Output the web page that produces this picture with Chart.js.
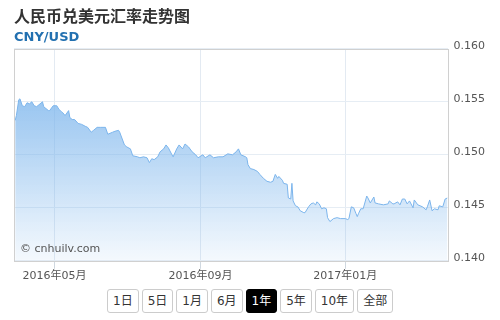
<!DOCTYPE html>
<html>
<head>
<meta charset="utf-8">
<script src="https://cdn.jsdelivr.net/npm/chart.js@4"></script>
<style>
  body { margin: 0; background: #fff; font-family: 'DejaVu Sans', 'Noto Sans CJK SC', sans-serif; }
  #wrap { position: relative; width: 500px; height: 320px; }
  #box { position: absolute; left: 0; top: 0; width: 500px; height: 284px; }
  #ranges { position: absolute; left: 107px; top: 289px; white-space: nowrap; font-size: 0; }
  #ranges span {
    display: inline-block; height: 22px; line-height: 22px; padding: 0 5px; margin-right: 3px;
    border: 1px solid #ccc; border-radius: 3px; font-size: 12px; color: #333;
    font-family: 'DejaVu Sans', 'Noto Sans CJK SC', sans-serif;
  }
  #ranges span.on { background: #000; color: #fff; border-color: #000; }
</style>
</head>
<body>
<div id="wrap">
  <div id="box"><canvas id="rate"></canvas></div>
  <div id="ranges"></div>
</div>
<script>
const dates = [
  '2016-03-29','2016-03-30','2016-04-01','2016-04-02','2016-04-04','2016-04-06','2016-04-08','2016-04-10',
  '2016-04-12','2016-04-14','2016-04-16','2016-04-18','2016-04-21','2016-04-22','2016-04-26','2016-04-27',
  '2016-04-30','2016-05-03','2016-05-05','2016-05-07','2016-05-08','2016-05-10','2016-05-13','2016-05-14',
  '2016-05-16','2016-05-18','2016-05-21','2016-05-24','2016-05-27','2016-05-29','2016-06-01','2016-06-03',
  '2016-06-06','2016-06-09','2016-06-13','2016-06-15','2016-06-19','2016-06-21','2016-06-24','2016-06-25',
  '2016-06-29','2016-07-01','2016-07-04','2016-07-06','2016-07-10','2016-07-12','2016-07-15','2016-07-18',
  '2016-07-20','2016-07-22','2016-07-24','2016-07-27','2016-07-29','2016-08-01','2016-08-03','2016-08-05',
  '2016-08-08','2016-08-09','2016-08-12','2016-08-14','2016-08-17','2016-08-19','2016-08-22','2016-08-25',
  '2016-08-28','2016-08-30','2016-09-03','2016-09-05','2016-09-09','2016-09-12','2016-09-16','2016-09-20',
  '2016-09-24','2016-09-28','2016-10-01','2016-10-03','2016-10-05','2016-10-09','2016-10-10','2016-10-11',
  '2016-10-13','2016-10-16','2016-10-19','2016-10-21','2016-10-24','2016-10-27','2016-10-30','2016-11-01',
  '2016-11-03','2016-11-05','2016-11-06','2016-11-09','2016-11-10','2016-11-13','2016-11-14','2016-11-16',
  '2016-11-17','2016-11-18','2016-11-20','2016-11-22','2016-11-24','2016-11-27','2016-11-28','2016-12-01',
  '2016-12-03','2016-12-05','2016-12-07','2016-12-08','2016-12-10','2016-12-12','2016-12-14','2016-12-16',
  '2016-12-17','2016-12-19','2016-12-22','2016-12-25','2016-12-28','2017-01-01','2017-01-03','2017-01-04',
  '2017-01-06','2017-01-08','2017-01-10','2017-01-11','2017-01-12','2017-01-14','2017-01-16','2017-01-19',
  '2017-01-20','2017-01-22','2017-01-25','2017-01-26','2017-01-29','2017-02-02','2017-02-06','2017-02-07',
  '2017-02-10','2017-02-11','2017-02-14','2017-02-16','2017-02-18','2017-02-20','2017-02-22','2017-02-24',
  '2017-02-27','2017-02-28','2017-03-03','2017-03-07','2017-03-10','2017-03-11','2017-03-13','2017-03-15',
  '2017-03-17','2017-03-20','2017-03-21','2017-03-24','2017-03-26','2017-03-28'
];
const rates = [
  0.15324, 0.15370, 0.15519, 0.15528, 0.15463, 0.15454, 0.15491, 0.15481,
  0.15500, 0.15463, 0.15454, 0.15472, 0.15500, 0.15454, 0.15417, 0.15417,
  0.15463, 0.15463, 0.15426, 0.15407, 0.15398, 0.15370, 0.15417, 0.15352,
  0.15333, 0.15333, 0.15296, 0.15287, 0.15269, 0.15259, 0.15213, 0.15231,
  0.15259, 0.15259, 0.15259, 0.15194, 0.15213, 0.15222, 0.15231, 0.15213,
  0.15093, 0.15074, 0.15056, 0.14991, 0.14981, 0.14972, 0.14981, 0.14972,
  0.14926, 0.14963, 0.14954, 0.14981, 0.15028, 0.15056, 0.15093, 0.15065,
  0.15000, 0.14981, 0.15056, 0.15093, 0.15056, 0.15102, 0.15074, 0.15028,
  0.15000, 0.14972, 0.15000, 0.14972, 0.15000, 0.14972, 0.14981, 0.14981,
  0.15009, 0.15000, 0.15028, 0.15056, 0.15000, 0.14981, 0.14972, 0.14907,
  0.14870, 0.14861, 0.14843, 0.14815, 0.14778, 0.14750, 0.14741, 0.14750,
  0.14815, 0.14778, 0.14796, 0.14759, 0.14731, 0.14722, 0.14593, 0.14583,
  0.14731, 0.14565, 0.14519, 0.14509, 0.14472, 0.14454, 0.14454, 0.14509,
  0.14537, 0.14546, 0.14528, 0.14556, 0.14537, 0.14491, 0.14500, 0.14491,
  0.14407, 0.14370, 0.14398, 0.14407, 0.14398, 0.14398, 0.14389, 0.14398,
  0.14509, 0.14500, 0.14444, 0.14417, 0.14444, 0.14491, 0.14491, 0.14611,
  0.14593, 0.14546, 0.14602, 0.14546, 0.14537, 0.14528, 0.14537, 0.14565,
  0.14537, 0.14537, 0.14556, 0.14528, 0.14583, 0.14583, 0.14537, 0.14565,
  0.14500, 0.14574, 0.14528, 0.14509, 0.14481, 0.14509, 0.14574, 0.14472,
  0.14491, 0.14481, 0.14519, 0.14509, 0.14583, 0.14593
];
const tickDates = ['2016-05-01', '2016-09-01', '2017-01-01'];
const tickLabels = ['2016年05月', '2016年09月', '2017年01月'];
const rangeLabels = ['1日', '5日', '1月', '6月', '1年', '5年', '10年', '全部'];
const activeRange = '1年';

const firstDay = '2016-03-28';
const lastDay = '2017-03-28';

function dayIndex(s) {
  const p = s.split('-');
  const t = Date.UTC(+p[0], p[1] - 1, +p[2]);
  const p0 = firstDay.split('-');
  return Math.round((t - Date.UTC(+p0[0], p0[1] - 1, +p0[2])) / 86400000);
}

// frame + watermark
const frame = {
  id: 'frame',
  afterDatasetsDraw(chart) {
    const a = chart.chartArea;
    const ctx = chart.ctx;
    ctx.save();
    ctx.strokeStyle = '#d0d0d0';
    ctx.lineWidth = 1;
    ctx.strokeRect(Math.round(a.left) + 0.5, Math.round(a.top) + 0.5,
      Math.round(a.right - a.left), Math.round(a.bottom - a.top));
    ctx.fillStyle = '#555';
    ctx.font = '11px "DejaVu Sans", sans-serif';
    ctx.textBaseline = 'middle';
    ctx.fillText('© cnhuilv.com', a.left + 6, a.bottom - 12);
    ctx.restore();
  }
};

const points = dates.map((d, i) => ({x: dayIndex(d), y: rates[i]}));
const tickPos = tickDates.map(dayIndex);

new Chart(document.getElementById('rate'), {
  type: 'line',
  data: {
    datasets: [{
      label: 'CNY/USD',
      data: points,
      borderColor: '#7cb5ec',
      borderWidth: 1,
      pointRadius: 0,
      tension: 0,
      fill: 'start',
      backgroundColor: (ctx) => {
        const a = ctx.chart.chartArea;
        if (!a) return 'rgba(124,181,236,0.6)';
        const g = ctx.chart.ctx.createLinearGradient(0, a.top, 0, a.bottom);
        g.addColorStop(0, 'rgba(124,181,236,1)');
        g.addColorStop(1, 'rgba(124,181,236,0.08)');
        return g;
      }
    }]
  },
  options: {
    responsive: true,
    maintainAspectRatio: false,
    animation: false,
    layout: {padding: {left: 14, right: 9, top: 4, bottom: 0}},
    plugins: {
      legend: {display: false},
      tooltip: {enabled: false},
      title: {
        display: true,
        align: 'start',
        text: '人民币兑美元汇率走势图',
        color: '#333',
        font: {family: '"Noto Sans CJK SC", sans-serif', size: 16, weight: 'bold'},
        padding: {top: 2, bottom: 5}
      },
      subtitle: {
        display: true,
        align: 'start',
        text: 'CNY/USD',
        color: '#2270b0',
        font: {family: '"DejaVu Sans", sans-serif', size: 13, weight: 'bold'},
        padding: {top: 0, bottom: 3}
      }
    },
    scales: {
      x: {
        type: 'linear',
        min: 0,
        max: dayIndex(lastDay),
        afterBuildTicks: (axis) => { axis.ticks = tickPos.map(v => ({value: v})); },
        ticks: {
          autoSkip: false,
          maxRotation: 0,
          padding: 1,
          color: '#555',
          font: {family: '"DejaVu Sans", "Noto Sans CJK SC", sans-serif', size: 11},
          callback: (v) => tickLabels[tickPos.indexOf(v)]
        },
        grid: {color: '#e3eaf2', tickLength: 8, tickColor: '#d0d8e0'},
        border: {display: false}
      },
      y: {
        position: 'right',
        min: 0.140,
        max: 0.160,
        ticks: {
          stepSize: 0.005,
          padding: 6,
          labelOffset: -3,
          color: '#555',
          font: {family: '"DejaVu Sans", sans-serif', size: 11},
          callback: (v) => v.toFixed(3)
        },
        grid: {color: '#e6edf4', drawTicks: false},
        border: {display: false}
      }
    }
  },
  plugins: [frame]
});

// range buttons
const ranges = document.getElementById('ranges');
rangeLabels.forEach((r) => {
  const b = document.createElement('span');
  b.textContent = r;
  if (r === activeRange) b.className = 'on';
  ranges.appendChild(b);
});
</script>
</body>
</html>
